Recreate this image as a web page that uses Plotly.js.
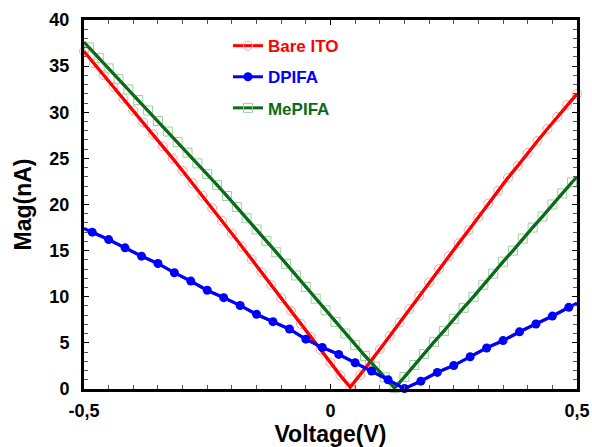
<!DOCTYPE html>
<html><head><meta charset="utf-8">
<script src="https://cdn.plot.ly/plotly-3.0.1.min.js"></script>
<style>html,body{margin:0;padding:0;background:#fff}#chart{width:592px;height:447px}</style>
</head><body><div id="chart"></div>
<script>
const seriesNames = ['Bare ITO', 'DPIFA', 'MePIFA'];

// Bare ITO (red, open circles)
const bareV = [-0.50,-0.48,-0.46,-0.44,-0.42,-0.40,-0.38,-0.36,-0.34,-0.32,-0.30,-0.28,-0.26,-0.24,-0.22,-0.20,-0.18,-0.16,-0.14,-0.12,-0.10,-0.08,-0.06,-0.04,-0.02,0.00,0.02,0.04,0.06,0.08,0.10,0.12,0.14,0.16,0.18,0.20,0.22,0.24,0.26,0.28,0.30,0.32,0.34,0.36,0.38,0.40,0.42,0.44,0.46,0.48,0.50];
const bareI = [36.6,35.32,34.04,32.76,31.48,30.2,28.91,27.61,26.3,24.98,23.65,22.31,20.96,19.6,18.23,16.85,15.46,14.06,12.66,11.26,9.86,8.46,7.06,5.66,4.26,2.86,1.46,0.2,1.5,2.9,4.3,5.75,7.2,8.65,10.1,11.55,13.0,14.4,15.8,17.2,18.65,20.1,21.5,22.9,24.2,25.6,26.9,28.2,29.5,30.8,32.0];

// DPIFA (blue, filled circles)
const dpV = [-0.4833,-0.45,-0.4167,-0.3833,-0.35,-0.3167,-0.2833,-0.25,-0.2167,-0.1833,-0.15,-0.1167,-0.0833,-0.05,-0.0167,0.0167,0.05,0.0833,0.1167,0.15,0.1833,0.2167,0.25,0.2833,0.3167,0.35,0.3833,0.4167,0.45,0.4833];
const dpI = [17.0,16.2,15.3,14.4,13.6,12.6,11.7,10.7,9.9,9.05,8.1,7.3,6.5,5.4,4.5,3.75,2.85,1.95,1.0,0.05,0.85,1.8,2.55,3.5,4.45,5.25,6.2,7.05,7.9,8.85];
const dpEdgeV = [-0.5, 0.5];
const dpEdgeI = [17.4, 9.3];

// MePIFA (green, open squares)
const mepV = [-0.49,-0.47,-0.45,-0.43,-0.41,-0.39,-0.37,-0.35,-0.33,-0.31,-0.29,-0.27,-0.25,-0.23,-0.21,-0.19,-0.17,-0.15,-0.13,-0.11,-0.09,-0.07,-0.05,-0.03,-0.01,0.01,0.03,0.05,0.07,0.09,0.11,0.13,0.15,0.17,0.19,0.21,0.23,0.25,0.27,0.29,0.31,0.33,0.35,0.37,0.39,0.41,0.43,0.45,0.47,0.49];
const mepI = [37.03,35.89,34.75,33.61,32.47,31.33,30.19,29.05,27.91,26.77,25.62,24.46,23.29,22.11,20.92,19.72,18.51,17.29,16.06,14.82,13.57,12.31,11.05,9.79,8.53,7.27,6.01,4.75,3.59,2.43,1.27,0.1,1.3,2.6,3.8,5.1,6.3,7.6,8.8,10.0,11.3,12.5,13.8,15.0,16.3,17.5,18.7,20.0,21.2,22.4];
const mepEdgeV = [-0.5, 0.5];
const mepEdgeI = [37.6, 23.0];

const xTickVals = [-0.5, 0, 0.5];
const xTickText = ['-0,5', '0', '0,5'];
const yTickVals = [0, 5, 10, 15, 20, 25, 30, 35, 40];
const yTickText = ['0', '5', '10', '15', '20', '25', '30', '35', '40'];

const RED = '#ff0000', BLUE = '#0000ff', GREEN = '#0b6b1a';

function withEdges(ev, ei, v, i) {
  return { x: [ev[0]].concat(v, [ev[1]]), y: [ei[0]].concat(i, [ei[1]]) };
}
const dpLine = withEdges(dpEdgeV, dpEdgeI, dpV, dpI);
const mepLine = withEdges(mepEdgeV, mepEdgeI, mepV, mepI);

const traces = [
  { x: bareV, y: bareI, mode: 'lines+markers', name: '<b><span style="color:' + RED + '">' + seriesNames[0] + '</span></b>',
    legendgroup: 'a', legendrank: 1, cliponaxis: false,
    line: { color: RED, width: 3 },
    marker: { symbol: 'circle-open', size: 9, color: '#ff9f9f', line: { width: 1, color: '#ff9f9f' } } },
  { x: mepV, y: mepI, mode: 'lines+markers', name: '<b><span style="color:' + GREEN + '">' + seriesNames[2] + '</span></b>',
    legendgroup: 'c', legendrank: 3, cliponaxis: false,
    line: { color: GREEN, width: 3 },
    marker: { symbol: 'square-open', size: 9, color: '#9ccf9f', line: { width: 1, color: '#9ccf9f' } } },
  { x: bareV, y: bareI, mode: 'lines', showlegend: false, hoverinfo: 'skip', cliponaxis: false,
    line: { color: RED, width: 3 } },
  { x: mepLine.x, y: mepLine.y, mode: 'lines', showlegend: false, hoverinfo: 'skip', cliponaxis: false,
    line: { color: GREEN, width: 3 } },
  { x: dpLine.x, y: dpLine.y, mode: 'lines', showlegend: false, hoverinfo: 'skip', cliponaxis: false,
    line: { color: BLUE, width: 3 } },
  { x: dpV, y: dpI, mode: 'lines+markers', name: '<b><span style="color:' + BLUE + '">' + seriesNames[1] + '</span></b>',
    legendgroup: 'b', legendrank: 2, cliponaxis: false,
    line: { color: BLUE, width: 3 },
    marker: { symbol: 'circle', size: 9, color: BLUE } }
];

const axisFont = { family: 'Liberation Sans, Arial, sans-serif', size: 18, color: '#000' };
const layout = {
  width: 592, height: 447,
  margin: { l: 84, r: 15, t: 20, b: 58 },
  paper_bgcolor: '#fff', plot_bgcolor: '#fff',
  showlegend: true,
  legend: { x: 0.292, y: 0.978, xanchor: 'left', yanchor: 'top', bgcolor: 'rgba(0,0,0,0)',
    font: { family: 'Liberation Sans, Arial, sans-serif', size: 17 }, tracegroupgap: 6, traceorder: 'grouped' },
  xaxis: {
    range: [-0.5, 0.5], tickmode: 'array', tickvals: xTickVals, ticktext: xTickText,
    showline: true, linecolor: '#000', linewidth: 3, mirror: 'allticks',
    ticks: 'inside', ticklen: 5, tickwidth: 1, tickcolor: '#000',
    minor: { tickmode: 'linear', tick0: -0.5, dtick: 0.05, ticks: 'inside', ticklen: 4, tickwidth: 1, tickcolor: '#555' },
    showgrid: false, zeroline: false, fixedrange: true,
    tickfont: { ...axisFont, weight: 'bold' }, ticklabelstandoff: 3,
    title: { text: '<b>Voltage(V)</b>', font: { family: 'Liberation Sans, Arial, sans-serif', size: 23, color: '#000' }, standoff: 7 },
    automargin: false
  },
  yaxis: {
    range: [0, 40], tickmode: 'array', tickvals: yTickVals, ticktext: yTickText,
    showline: true, linecolor: '#000', linewidth: 3, mirror: 'allticks',
    ticks: 'inside', ticklen: 5, tickwidth: 1, tickcolor: '#000',
    minor: { tickmode: 'linear', tick0: 0, dtick: 1, ticks: 'inside', ticklen: 4, tickwidth: 1, tickcolor: '#555' },
    showgrid: false, zeroline: false, fixedrange: true,
    tickfont: { ...axisFont, weight: 'bold' }, ticklabelstandoff: 8,
    title: { text: '<b>Mag(nA)</b>', font: { family: 'Liberation Sans, Arial, sans-serif', size: 23, color: '#000' }, standoff: 12 },
    automargin: false
  }
};
Plotly.newPlot('chart', traces, layout, { staticPlot: true, displayModeBar: false });
</script>
</body></html>
